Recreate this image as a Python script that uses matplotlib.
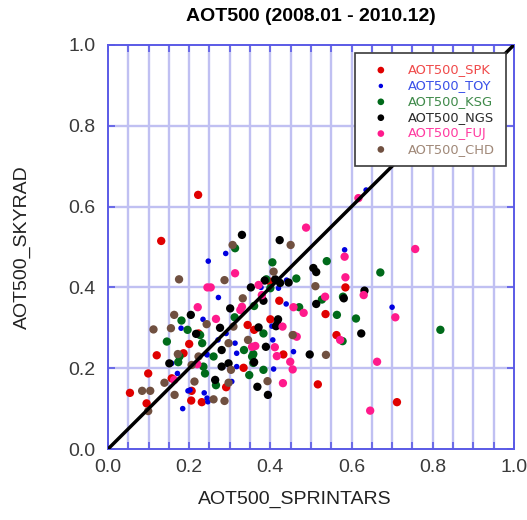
import matplotlib
matplotlib.use("Agg")
import matplotlib.pyplot as plt
import numpy as np

# AOT500 from SPRINTARS (x) vs SKYRAD (y), one list per site
spk_x = [0.131, 0.054, 0.095, 0.099, 0.120, 0.186, 0.200, 0.157, 0.205, 0.231, 0.206, 0.223,
         0.291, 0.334, 0.344, 0.360, 0.400, 0.400, 0.422, 0.432, 0.517, 0.536, 0.563, 0.585,
         0.712, 0.222]
spk_y = [0.515, 0.139, 0.113, 0.187, 0.232, 0.237, 0.260, 0.175, 0.120, 0.116, 0.144, 0.286,
         0.153, 0.201, 0.307, 0.295, 0.321, 0.414, 0.367, 0.234, 0.160, 0.334, 0.282, 0.400,
         0.116, 0.629]

toy_x = [0.247, 0.290, 0.272, 0.234, 0.180, 0.157, 0.171, 0.197, 0.237, 0.246, 0.184, 0.271,
         0.291, 0.313, 0.317, 0.377, 0.404, 0.406, 0.408, 0.439, 0.457, 0.305, 0.583, 0.700,
         0.420, 0.243, 0.440, 0.317, 0.636, 0.244, 0.202, 0.244]
toy_y = [0.465, 0.484, 0.375, 0.321, 0.299, 0.212, 0.187, 0.144, 0.139, 0.117, 0.100, 0.270,
         0.286, 0.262, 0.237, 0.400, 0.304, 0.270, 0.198, 0.359, 0.241, 0.167, 0.493, 0.351,
         0.398, 0.235, 0.418, 0.204, 0.641, 0.126, 0.146, 0.233]

ksg_x = [0.313, 0.405, 0.539, 0.464, 0.360, 0.312, 0.181, 0.196, 0.145, 0.176, 0.227, 0.260,
         0.235, 0.239, 0.266, 0.335, 0.355, 0.348, 0.383, 0.383, 0.400, 0.471, 0.527, 0.564,
         0.579, 0.611, 0.578, 0.671, 0.819, 0.358, 0.390, 0.173, 0.232, 0.358]
ksg_y = [0.497, 0.462, 0.465, 0.422, 0.354, 0.326, 0.318, 0.295, 0.266, 0.229, 0.282, 0.229,
         0.204, 0.187, 0.158, 0.245, 0.229, 0.183, 0.196, 0.286, 0.398, 0.351, 0.370, 0.332,
         0.377, 0.323, 0.267, 0.437, 0.295, 0.235, 0.420, 0.215, 0.262, 0.213]

ngs_x = [0.330, 0.423, 0.506, 0.513, 0.386, 0.352, 0.445, 0.412, 0.383, 0.301, 0.204, 0.217,
         0.151, 0.280, 0.297, 0.280, 0.264, 0.371, 0.389, 0.419, 0.414, 0.360, 0.368, 0.394,
         0.497, 0.513, 0.581, 0.632, 0.624, 0.424, 0.417, 0.276]
ngs_y = [0.530, 0.517, 0.448, 0.438, 0.417, 0.400, 0.412, 0.420, 0.367, 0.348, 0.332, 0.285,
         0.212, 0.245, 0.212, 0.204, 0.171, 0.301, 0.253, 0.321, 0.304, 0.215, 0.154, 0.134,
         0.234, 0.359, 0.373, 0.392, 0.286, 0.411, 0.309, 0.300]

fuj_x = [0.488, 0.757, 0.583, 0.585, 0.313, 0.245, 0.253, 0.221, 0.266, 0.326, 0.330, 0.371,
         0.379, 0.457, 0.482, 0.535, 0.630, 0.430, 0.457, 0.465, 0.363, 0.355, 0.416, 0.449,
         0.455, 0.431, 0.572, 0.663, 0.708, 0.646, 0.220, 0.163, 0.617, 0.411]
fuj_y = [0.548, 0.495, 0.476, 0.425, 0.435, 0.400, 0.400, 0.351, 0.322, 0.344, 0.352, 0.406,
         0.381, 0.351, 0.337, 0.377, 0.381, 0.303, 0.282, 0.278, 0.255, 0.253, 0.230, 0.216,
         0.197, 0.163, 0.270, 0.216, 0.326, 0.095, 0.210, 0.171, 0.621, 0.252]

chd_x = [0.307, 0.450, 0.175, 0.287, 0.408, 0.511, 0.332, 0.163, 0.155, 0.112, 0.243, 0.309,
         0.297, 0.345, 0.172, 0.223, 0.206, 0.139, 0.164, 0.213, 0.084, 0.104, 0.099, 0.260,
         0.287, 0.297, 0.393, 0.303, 0.455, 0.537]
chd_y = [0.505, 0.505, 0.420, 0.418, 0.439, 0.403, 0.373, 0.332, 0.299, 0.296, 0.309, 0.303,
         0.262, 0.270, 0.235, 0.229, 0.208, 0.164, 0.134, 0.167, 0.144, 0.144, 0.094, 0.123,
         0.119, 0.164, 0.168, 0.196, 0.282, 0.233]

sites = ["SPK", "TOY", "KSG", "NGS", "FUJ", "CHD"]
xs = [spk_x, toy_x, ksg_x, ngs_x, fuj_x, chd_x]
ys = [spk_y, toy_y, ksg_y, ngs_y, fuj_y, chd_y]
dot_colors = ["#e00000", "#0000e0", "#006a1a", "#000000", "#ff1a8c", "#705040"]
text_colors = ["#f04a4a", "#3a50e8", "#3f8a4a", "#2a2a2a", "#ff3aa0", "#a08878"]
dot_sizes = [36, 16, 36, 36, 36, 36]

fig = plt.figure(figsize=(5.27, 5.2), dpi=100)
ax = fig.add_axes([0.205, 0.1365, 0.770, 0.777])

grid_c = "#c0c0f2"
for v in np.arange(0.05, 1.0, 0.05):
    ax.axvline(v, color=grid_c, lw=1.7, zorder=0)
for v in np.arange(0.2, 1.0, 0.2):
    ax.axhline(v, color=grid_c, lw=1.7, zorder=0)

handles = []
for x, y, c, s in zip(xs, ys, dot_colors, dot_sizes):
    h = ax.scatter(x, y, s=s, color=c, edgecolors="none", zorder=2)
    handles.append(h)

ax.plot([0, 1], [0, 1], color="black", lw=2.5, zorder=3, solid_capstyle="round")

ax.set_xlim(0, 1)
ax.set_ylim(0, 1)
ticks = [0.0, 0.2, 0.4, 0.6, 0.8, 1.0]
ax.set_xticks(ticks)
ax.set_yticks(ticks)
ax.set_xticklabels([f"{t:.1f}" for t in ticks])
ax.set_yticklabels([f"{t:.1f}" for t in ticks])
ax.set_xticks(np.arange(0, 1.0001, 0.05), minor=True)

for sp in ax.spines.values():
    sp.set_color("#5a5ae6")
    sp.set_linewidth(1.4)
ax.tick_params(which="both", direction="in", colors="#5a5ae6",
               top=True, right=True, labelsize=14, labelcolor="#3a3a3a")
ax.tick_params(which="both", length=5, width=1.2)
ax.tick_params(axis="x", which="major", pad=7)
ax.tick_params(axis="y", which="major", pad=9)

font = "Liberation Sans"
for lab in ax.get_xticklabels() + ax.get_yticklabels():
    lab.set_fontfamily(font)

ax.set_title("AOT500 (2008.01 - 2010.12)", fontsize=14, fontweight="bold",
             fontfamily=font, pad=17)
ax.set_xlabel("AOT500_SPRINTARS", fontsize=14, fontfamily=font, color="#222222")
ax.set_ylabel("AOT500_SKYRAD", fontsize=14, fontfamily=font, color="#222222")
ax.xaxis.set_label_coords(0.459, -0.104)
ax.yaxis.set_label_coords(-0.19, 0.5)

leg = ax.legend(handles, [f"AOT500_{s}" for s in sites], loc="upper right",
                bbox_to_anchor=(0.980, 0.980), fontsize=9.4, frameon=True, fancybox=False,
                handletextpad=0.9, borderpad=0.8, labelspacing=0.22, markerscale=0.8,
                handlelength=2.4, borderaxespad=0)
leg.get_frame().set_edgecolor("#3a3a3a")
leg.get_frame().set_linewidth(1.2)
leg.get_frame().set_alpha(1)
leg.set_zorder(5)
for t, c in zip(leg.get_texts(), text_colors):
    t.set_color(c)

fig.savefig("out.png", dpi=100)
